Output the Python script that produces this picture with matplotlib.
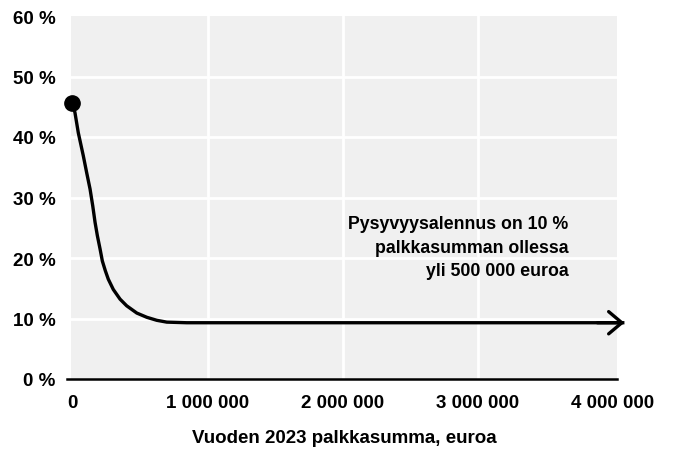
import matplotlib
matplotlib.use("Agg")
import matplotlib.pyplot as plt

# Data
payroll = [0, 18500, 43000, 80000, 105000, 130000, 150000, 167000, 184000, 204000,
           221000, 243000, 265000, 302000, 352000, 401000, 476000, 550000, 624000,
           698000, 846000, 944000, 4085000]
discount = [45.7, 44.0, 40.7, 36.9, 34.1, 31.4, 28.6, 25.9, 23.7, 21.5,
            19.5, 17.9, 16.5, 14.8, 13.2, 12.1, 10.9, 10.2, 9.7,
            9.4, 9.3, 9.3, 9.3]
x_ticks = [0, 1000000, 2000000, 3000000, 4000000]
x_tick_labels = ["0", "1 000 000", "2 000 000", "3 000 000", "4 000 000"]
y_ticks = [0, 10, 20, 30, 40, 50, 60]
y_tick_labels = ["0 %", "10 %", "20 %", "30 %", "40 %", "50 %", "60 %"]
x_label = "Vuoden 2023 palkkasumma, euroa"
note = "Pysyvyysalennus on 10 %\npalkkasumman ollessa\nyli 500 000 euroa"

plt.rcParams['font.family'] = ['Liberation Sans', 'DejaVu Sans']
plt.rcParams['font.weight'] = 'bold'

FS = 13.5

fig = plt.figure(figsize=(6.78, 4.52), dpi=100)
ax = fig.add_axes([71/678, 1-380/452, (617-71)/678, (380-17)/452])
ax.set_facecolor('#f0f0f0')
ax.set_xlim(-11000, 4030000)
ax.set_ylim(0, 60)

ax.set_xticks(x_ticks)
ax.set_xticklabels(x_tick_labels)
ax.set_yticks(y_ticks)
ax.set_yticklabels(y_tick_labels)
ax.tick_params(length=0, labelsize=FS, colors='black')
ax.tick_params(axis='y', pad=11)
ax.tick_params(axis='x', pad=11)
for lab in ax.get_xticklabels() + ax.get_yticklabels():
    lab.set_fontweight('bold')

ax.grid(True, color='white', linewidth=2)
ax.set_axisbelow(True)
xg = ax.get_xgridlines()
xg[0].set_visible(False)
xg[-1].set_visible(False)
yg = ax.get_ygridlines()
yg[0].set_visible(False)
yg[-1].set_visible(False)

for s in ['top', 'right', 'left', 'bottom']:
    ax.spines[s].set_visible(False)
ax.plot([-40000, 4030000], [0, 0], color='black', lw=1.8, clip_on=False, zorder=3)

ax.plot(payroll, discount, color='black', lw=2.4, clip_on=False, zorder=4,
        solid_capstyle='butt', solid_joinstyle='round')
ax.plot([payroll[0]], [discount[0]], 'o', color='black', markersize=11, zorder=5,
        clip_on=False)
ax.annotate('', xy=(payroll[-1], discount[-1]), xytext=(payroll[-1] - 200000, discount[-1]),
            arrowprops=dict(arrowstyle='->,head_length=0.95,head_width=0.8', lw=2.4,
                            color='black', shrinkA=0, shrinkB=0),
            annotation_clip=False, zorder=5)

ax.text(3670000, 27.1, note, ha='right', va='top', fontsize=12.8, fontweight='bold',
        linespacing=1.5)

ax.set_xlabel(x_label, fontsize=FS, fontweight='bold', labelpad=13)

fig.savefig('out.png', dpi=100, facecolor='white')
